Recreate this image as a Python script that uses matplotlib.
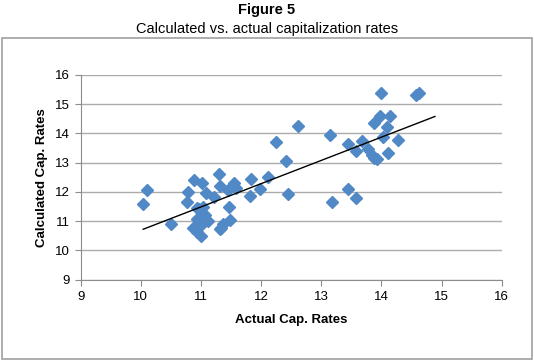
import numpy as np
import matplotlib.pyplot as plt
from matplotlib.patches import Rectangle

plt.rcParams['font.family'] = ['Liberation Sans', 'DejaVu Sans']

# values
actual = [10.04, 10.11, 10.51, 10.76, 10.79, 10.88, 11.01, 11.30, 11.08, 11.22,
          11.32, 11.45, 11.55, 11.59, 11.84, 11.98, 11.82, 12.11, 12.25, 12.41,
          12.44, 12.61, 11.47, 10.94, 11.04, 10.96, 11.07, 10.93, 11.11, 11.01,
          11.49, 11.37, 11.32, 10.87, 10.94, 11.00, 11.33,
          13.15, 13.44, 13.68, 13.58, 13.78, 13.84, 13.92, 13.87, 14.11, 14.03,
          14.28, 14.10, 14.14, 13.97, 13.87, 14.00, 14.63, 14.58, 13.45, 13.57,
          13.18]
calculated = [11.59, 12.05, 10.90, 11.66, 12.01, 12.42, 12.32, 12.61, 11.95, 11.84,
              12.20, 12.07, 12.29, 12.12, 12.43, 12.11, 11.86, 12.52, 13.70, 13.07,
              11.92, 14.24, 11.48, 11.45, 11.49, 11.40, 11.21, 11.06, 11.00, 10.90,
              11.04, 10.90, 10.72, 10.75, 10.64, 10.49, 10.75,
              13.95, 13.64, 13.75, 13.40, 13.45, 13.25, 13.13, 13.15, 13.32, 13.87,
              13.77, 14.22, 14.58, 14.58, 14.34, 15.38, 15.40, 15.32, 12.11, 11.78,
              11.66]
trend_x = [10.04, 14.89]
trend_y = [10.72, 14.58]

fig = plt.figure(figsize=(5.34, 3.6), dpi=100)
ax = fig.add_axes([0.151, 0.2236, 0.7885, 0.5681])

ax.grid(axis='y', color='#ababab', lw=1.0)
ax.set_axisbelow(True)
ax.plot(actual, calculated, 'D', color='#5188c6', ms=6.4, mec='#5188c6', zorder=3)
ax.plot(trend_x, trend_y, '-', color='black', lw=1.0, zorder=4)

ax.set_xlim(9, 16)
ax.set_ylim(9, 16)
ax.set_xticks(range(9, 17))
ax.set_yticks(range(9, 17))
for s in ['top', 'right']:
    ax.spines[s].set_visible(False)
for s in ['left', 'bottom']:
    ax.spines[s].set_color('#8c8c8c')
ax.tick_params(direction='out', length=4, color='#8c8c8c', labelsize=9.5, pad=4)
ax.set_xlabel('Actual Cap. Rates', fontsize=9.5, fontweight='bold', labelpad=8)
ax.set_ylabel('Calculated Cap. Rates', fontsize=9.5, fontweight='bold', labelpad=5)

fig.text(0.5, 0.972, 'Figure 5', ha='center', va='center', fontsize=10.5, fontweight='bold')
fig.text(0.5, 0.92, 'Calculated vs. actual capitalization rates', ha='center', va='center', fontsize=10.5)

fig.patches.append(Rectangle((1.5/534, 1 - 358.5/360), 530.5/534, 320.5/360,
                             transform=fig.transFigure, fill=False, ec='#a0a0a0', lw=1.2))

fig.savefig('out.png', dpi=100)
